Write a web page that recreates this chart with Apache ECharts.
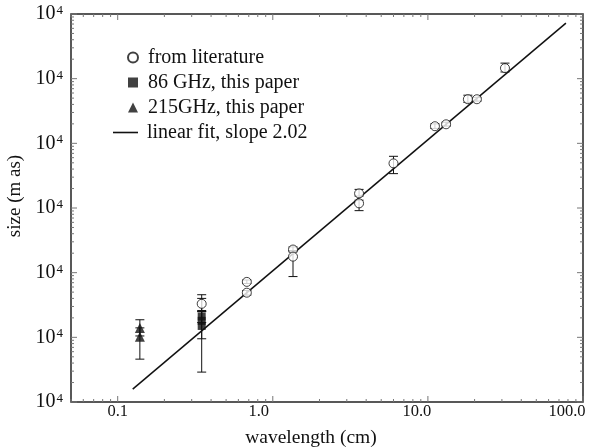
<!DOCTYPE html>
<html><head><meta charset="utf-8">
<script src="https://cdn.jsdelivr.net/npm/echarts@6/dist/echarts.min.js"></script>
<style>html,body{margin:0;padding:0;background:#fff}#c{width:611px;height:448px}</style>
</head><body><div id="c"></div>
<script>
const FONT = "'Liberation Serif','Times New Roman',serif";

// axis tick labels
const xTickLabels = ['0.1', '1.0', '10.0', '100.0'];   // decades 10^-1 .. 10^2
const yTickBase = ['10', '10', '10', '10', '10', '10', '10'];
const yTickExp  = ['4', '4', '4', '4', '4', '4', '4'];

// from literature: wavelength (cm), size (mas), error low / high
const litWavelength = [0.348, 0.68, 0.68, 1.35, 1.35, 3.6, 3.6, 6.0, 11.1, 13.1, 18.1, 20.7, 31.4];
const litSize       = [0.33, 0.72, 0.49, 2.28, 1.77, 16.8, 11.8, 49, 184, 197, 481, 481, 1455];
const litLow        = [0.25, 0.68, 0.45, 2.10, 0.87, 15.3, 9.1, 34, 170, 185, 430, 450, 1270];
const litHigh       = [0.456, 0.77, 0.53, 2.50, 2.20, 19.4, 13.2, 63, 200, 212, 555, 515, 1740];

// 86 GHz, this paper
const w86Wavelength = [0.348, 0.348, 0.348];
const w86Size       = [0.21, 0.18, 0.15];
const w86Low        = [0.17, 0.095, 0.029];
const w86High       = [0.25, 0.26, 0.40];

// 215 GHz, this paper
const w215Wavelength = [0.139, 0.139];
const w215Size       = [0.14, 0.102];
const w215Low        = [0.105, 0.046];
const w215High       = [0.187, 0.14];

// linear fit (slope 2.02) end points
const fitWavelength = [0.125, 77.6];
const fitSize       = [0.0158, 7240];

const X_MIN = 0.05, X_MAX = 100, Y_MIN = 0.01, Y_MAX = 10000;

const zip = (a, b) => a.map((v, i) => [v, b[i]]);
const zip3 = (a, b, c) => a.map((v, i) => [v, b[i], c[i]]);

// tick positions (log decades and 2..9 minor)
const xTicks = [], yTicks = [];
for (let k = -2; k <= 2; k++) for (let m = 1; m <= 9; m++) {
  const v = m * Math.pow(10, k);
  if (v >= X_MIN * 0.999 && v <= X_MAX * 1.001) xTicks.push([v, 1, m === 1 ? 6 : 3]);
}
for (let k = -2; k <= 4; k++) for (let m = 1; m <= 9; m++) {
  const v = m * Math.pow(10, k);
  if (v >= Y_MIN * 0.999 && v <= Y_MAX * 1.001) yTicks.push([1, v, m === 1 ? 6 : 3]);
}

function errRender(params, api) {
  const x = api.value(0), lo = api.value(1), hi = api.value(2);
  const a = api.coord([x, lo]), b = api.coord([x, hi]);
  const w = 4.5, st = { stroke: '#111', lineWidth: 1 };
  return { type: 'group', children: [
    { type: 'line', shape: { x1: a[0], y1: a[1], x2: b[0], y2: b[1] }, style: st },
    { type: 'line', shape: { x1: a[0] - w, y1: a[1], x2: a[0] + w, y2: a[1] }, style: st },
    { type: 'line', shape: { x1: b[0] - w, y1: b[1], x2: b[0] + w, y2: b[1] }, style: st }
  ]};
}
function xTickRender(params, api) {
  const v = api.value(0), len = api.value(2);
  const a = api.coord([v, Y_MIN]), b = api.coord([v, Y_MAX]);
  const st = { stroke: '#777', lineWidth: 1 };
  return { type: 'group', children: [
    { type: 'line', shape: { x1: a[0], y1: a[1], x2: a[0], y2: a[1] - len }, style: st },
    { type: 'line', shape: { x1: b[0], y1: b[1], x2: b[0], y2: b[1] + len }, style: st }
  ]};
}
function yTickRender(params, api) {
  const v = api.value(1), len = api.value(2);
  const a = api.coord([X_MIN, v]), b = api.coord([X_MAX, v]);
  const st = { stroke: '#777', lineWidth: 1 };
  return { type: 'group', children: [
    { type: 'line', shape: { x1: a[0], y1: a[1], x2: a[0] + len, y2: a[1] }, style: st },
    { type: 'line', shape: { x1: b[0], y1: b[1], x2: b[0] - len, y2: b[1] }, style: st }
  ]};
}

const isDecade = v => Math.abs(Math.log10(v) - Math.round(Math.log10(v))) < 1e-6;

const chart = echarts.init(document.getElementById('c'));
chart.setOption({
  backgroundColor: '#fff',
  animation: false,
  textStyle: { fontFamily: FONT, color: '#111' },
  grid: {
    left: 71, right: 28, top: 14, bottom: 46, show: true, borderColor: '#222', borderWidth: 1.5,
    outerBoundsMode: 'none', containLabel: false
  },
  legend: [
    {
      data: ['from literature', '86 GHz, this paper', '215GHz, this paper'],
      orient: 'vertical', left: 127, top: 45, padding: 0, itemGap: 0,
      itemWidth: 10, itemHeight: 10,
      textStyle: { fontFamily: FONT, fontSize: 20, color: '#111', lineHeight: 25, padding: [0, 0, 0, 5] }
    },
    {
      data: [{ name: 'linear fit, slope 2.02', icon: 'rect' }],
      orient: 'vertical', left: 113, top: 120, padding: 0,
      itemWidth: 25, itemHeight: 1.6,
      textStyle: { fontFamily: FONT, fontSize: 20, color: '#111', lineHeight: 25, padding: [0, 0, 0, 4] }
    }
  ],
  xAxis: {
    type: 'log', logBase: 10, min: X_MIN, max: X_MAX,
    name: 'wavelength (cm)', nameLocation: 'middle', nameGap: 26,
    nameTextStyle: { fontFamily: FONT, fontSize: 19.5, color: '#111', padding: [0, 32, 0, 0] },
    axisLine: { show: false }, axisTick: { show: false }, splitLine: { show: false },
    axisLabel: {
      margin: 1, fontFamily: FONT, fontSize: 16.5, color: '#111',
      formatter: v => {
        if (!isDecade(v)) return '';
        const i = Math.round(Math.log10(v)) + 1;
        if (i < 0 || i >= xTickLabels.length) return '';
        return '{l' + i + '|' + xTickLabels[i] + '}';
      },
      rich: {
        l0: { fontFamily: FONT, fontSize: 16.5, color: '#111' },
        l1: { fontFamily: FONT, fontSize: 16.5, color: '#111', padding: [0, 28, 0, 0] },
        l2: { fontFamily: FONT, fontSize: 16.5, color: '#111', padding: [0, 22, 0, 0] },
        l3: { fontFamily: FONT, fontSize: 16.5, color: '#111', padding: [0, 32, 0, 0] }
      }
    }
  },
  yAxis: {
    type: 'log', logBase: 10, min: Y_MIN, max: Y_MAX,
    name: 'size (m as)', nameLocation: 'middle', nameGap: 45,
    nameTextStyle: { fontFamily: FONT, fontSize: 19, color: '#111', padding: [0, 0, 0, 24] },
    axisLine: { show: false }, axisTick: { show: false }, splitLine: { show: false },
    axisLabel: {
      margin: 8, fontFamily: FONT, color: '#111',
      formatter: v => {
        if (!isDecade(v)) return '';
        const i = Math.round(Math.log10(v)) + 2;
        if (i < 0 || i >= yTickBase.length) return '';
        return '{b|' + yTickBase[i] + '}{s|' + yTickExp[i] + '}';
      },
      rich: {
        b: { fontFamily: FONT, fontSize: 20, color: '#111', lineHeight: 20 },
        s: { fontFamily: FONT, fontSize: 13, color: '#111', verticalAlign: 'top', lineHeight: 20, padding: [0, 0, 8, 1] }
      }
    }
  },
  series: [
    { type: 'custom', name: 'xticks', data: xTicks, renderItem: xTickRender, encode: { x: 0, y: 1 }, silent: true, z: 1 },
    { type: 'custom', name: 'yticks', data: yTicks, renderItem: yTickRender, encode: { x: 0, y: 1 }, silent: true, z: 1 },
    {
      type: 'line', name: 'linear fit, slope 2.02', data: zip(fitWavelength, fitSize),
      symbol: 'none', lineStyle: { color: '#111', width: 1.5 }, itemStyle: { color: '#111' }, z: 2
    },
    { type: 'custom', name: 'err_lit', data: zip3(litWavelength, litLow, litHigh), renderItem: errRender, encode: { x: 0, y: [1, 2] }, silent: true, z: 3 },
    { type: 'custom', name: 'err_86', data: zip3(w86Wavelength, w86Low, w86High), renderItem: errRender, encode: { x: 0, y: [1, 2] }, silent: true, z: 3 },
    { type: 'custom', name: 'err_215', data: zip3(w215Wavelength, w215Low, w215High), renderItem: errRender, encode: { x: 0, y: [1, 2] }, silent: true, z: 3 },
    {
      type: 'scatter', name: 'from literature', data: zip(litWavelength, litSize),
      symbol: 'circle', symbolSize: 9,
      itemStyle: { color: '#fff', borderColor: '#111', borderWidth: 1 }, z: 4
    },
    {
      type: 'scatter', name: '86 GHz, this paper', data: zip(w86Wavelength, w86Size),
      symbol: 'rect', symbolSize: 8, itemStyle: { color: '#111' }, z: 5
    },
    {
      type: 'scatter', name: '215GHz, this paper', data: zip(w215Wavelength, w215Size),
      symbol: 'triangle', symbolSize: 10, itemStyle: { color: '#111' }, z: 5
    }
  ]
});
</script>
</body></html>
